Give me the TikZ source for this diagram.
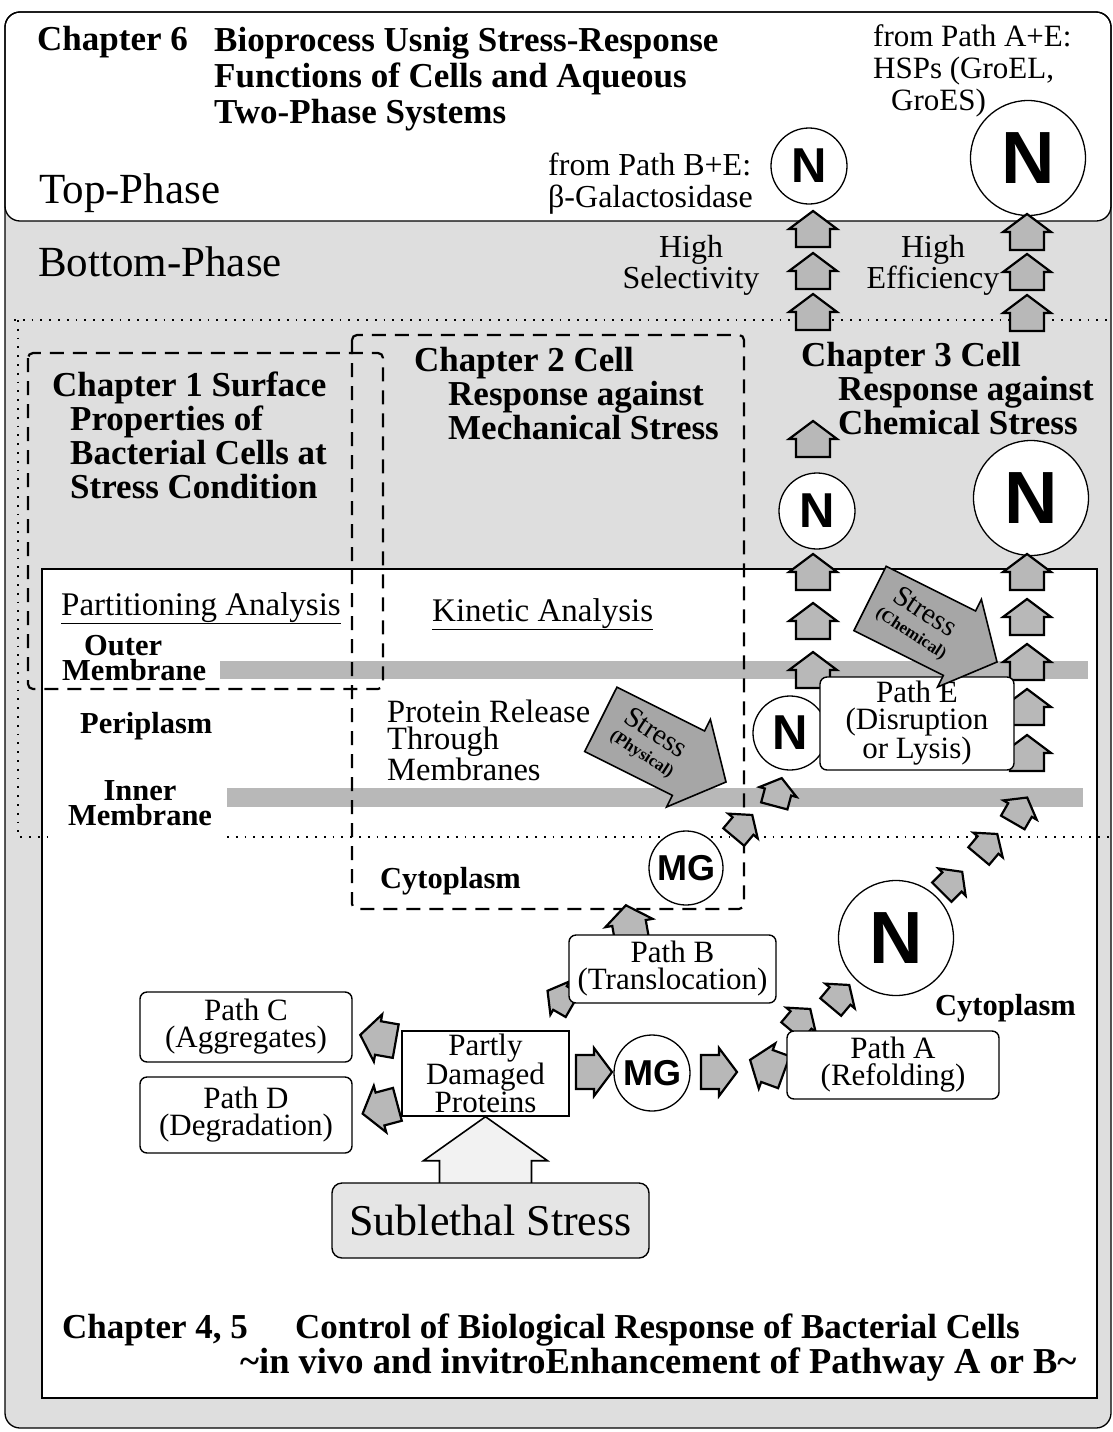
\documentclass[tikz,border=0pt]{standalone}
\usepackage{fontspec}
\setmainfont{Liberation Serif}
\setsansfont{Liberation Sans}
\usetikzlibrary{calc}

\begin{document}
\begin{tikzpicture}[
        x=1pt, y=-1pt,
        frame/.style={draw, line width=1.3pt},
        band/.style={fill=black!28},
        chapbox/.style={draw, line width=2.2pt, dash pattern=on 14pt off 9pt, rounded corners=5pt},
        layerline/.style={draw, line width=1.8pt, dash pattern=on 1.8pt off 7pt},
        head/.style={inner sep=0pt, align=left, font=\bfseries\fontsize{35}{34}\selectfont},
        txt/.style={inner sep=0pt, align=left, font=\fontsize{32}{32}\selectfont},
        phase/.style={inner sep=0pt, font=\fontsize{43}{43}\selectfont},
        layer/.style={inner sep=0pt, align=left, font=\bfseries\fontsize{30.5}{25}\selectfont},
        pathbox/.style={draw, fill=white, line width=1.4pt, rounded corners=7pt, inner sep=0pt, align=center, font=\fontsize{31}{27}\selectfont},
        nbig/.style={circle, draw, fill=white, line width=1.3pt, inner sep=0pt, minimum size=115pt, font=\sffamily\bfseries\fontsize{74}{74}\selectfont},
        nsmall/.style={nbig, minimum size=76pt, font=\sffamily\bfseries\fontsize{49}{49}\selectfont},
        mgnode/.style={nbig, minimum size=74pt, font=\sffamily\bfseries\fontsize{36}{36}\selectfont},
        stressarrow/.style={draw, fill=black!35, line width=1.6pt, line join=miter},
        stresstext/.style={rotate=-33, inner sep=0pt, align=center, font=\fontsize{29}{22}\selectfont},
        hollowarrow/.style={draw, fill=black!5, line width=1.6pt, line join=miter},
        house/.pic={\path[draw, fill=black!28, line width=2.2pt, line join=miter] (-17,18) -- (-17,0) -- (-24,0) -- (0,-18) -- (24,0) -- (17,0) -- (17,18) -- cycle;}
    ]
        \useasboundingbox (0,0) rectangle (1113,1432);

        % phases: white top phase, grey bottom phase, white cell
        \fill[black!13, rounded corners=15pt] (5,12) rectangle (1111,1428);
        \fill[white, rounded corners=15pt] (5,12) rectangle (1111,221);
        \draw[frame, rounded corners=15pt] (5,12) rectangle (1111,1428);
        \draw[frame, rounded corners=15pt] (5,12) rectangle (1111,221);
        \draw[frame, fill=white] (42,569) rectangle (1097,1398);

        % membranes and layer borders
        \fill[band] (220,661) rectangle (1088,679);
        \fill[band] (227,788) rectangle (1083,807);
        \draw[layerline] (14,320) -- (1113,320);
        \draw[layerline] (18,320) -- (18,837) -- (50,837);
        \draw[layerline] (227,837) -- (1113,837);

        % chapter areas
        \draw[chapbox] (28,353) rectangle (383,689);
        \draw[chapbox] (352,335) rectangle (744,909);

        % native (N) and molten globule (MG) proteins
        \node[nsmall] (ntop) at (809,166) {N};
        \node[nbig] (ntopbig) at (1028,158) {N};
        \node[nsmall] (nmid) at (817,511) {N};
        \node[nbig] (nmidbig) at (1031,498) {N};
        \node[nsmall, minimum size=74pt] (ne) at (790,733) {N};
        \node[mgnode] (mgup) at (686,868) {MG};
        \node[nbig] (nbot) at (896,938) {N};
        \node[mgnode, minimum size=76pt] (mgbot) at (652,1073) {MG};

        % release through the phases
        \pic at (813,229) {house};
        \pic at (813,271) {house};
        \pic at (813,312) {house};
        \pic at (1027,232) {house};
        \pic at (1027,272) {house};
        \pic at (1027,313) {house};
        \pic at (813,439) {house};
        % release through the membranes
        \pic at (813,572) {house};
        \pic at (813,621) {house};
        \pic at (813,670) {house};
        \pic at (1027,572) {house};
        \pic at (1027,617) {house};
        \pic at (1027,662) {house};
        \pic at (1027,707) {house};
        \pic at (1027,753) {house};
        % Path B route
        \pic[rotate=-40, scale=0.8] at (743,826) {house};
        \pic[rotate=-15, scale=0.8] at (778,792) {house};
        \pic[rotate=10] at (629,923) {house};
        \pic[rotate=60, scale=0.8] at (560,998) {house};
        % Path A route
        \pic[rotate=-40, scale=0.8] at (801,1020) {house};
        \pic[rotate=-40, scale=0.8] at (840,996) {house};
        \pic[rotate=-45, scale=0.8] at (952,882) {house};
        \pic[rotate=-40, scale=0.8] at (988,845) {house};
        \pic[rotate=-30, scale=0.8] at (1020,810) {house};
        % from the damaged proteins
        \pic[rotate=-90] at (594,1072) {house};
        \pic[rotate=-90] at (719,1072) {house};
        \pic[rotate=70] at (767,1066) {house};
        \pic[rotate=80] at (378,1038) {house};
        \pic[rotate=105] at (380,1109) {house};

        % pathways
        \node[pathbox, minimum width=212pt, minimum height=70pt] (pathc) at (246,1027) {Path C\\(Aggregates)};
        \node[pathbox, minimum width=212pt, minimum height=76pt] (pathd) at (246,1115) {Path D\\(Degradation)};
        \node[pathbox, rounded corners=0pt, minimum width=167pt, minimum height=85pt] (damaged) at (485.5,1073.5) {Partly\\Damaged\\Proteins};
        \node[pathbox, minimum width=207pt, minimum height=68pt] (pathb) at (672.5,969) {Path B\\(Translocation)};
        \node[pathbox, minimum width=212pt, minimum height=68pt] (patha) at (893,1065) {Path A\\(Refolding)};
        \node[pathbox, minimum width=194pt, minimum height=93pt] (pathe) at (917,723.5) {Path E\\(Disruption\\or Lysis)};

        % sublethal stress
        \draw[hollowarrow] ($(damaged.south)+(-46,67)$) -- ++(0,-23) -- ++(-16,0) -- (damaged.south) -- ++(62,44) -- ++(-16,0) -- ++(0,23);
        \node[pathbox, fill=black!10, rounded corners=10pt, minimum width=317pt, minimum height=75pt, font=\fontsize{44}{44}\selectfont] (sub) at (490.5,1220.5) {Sublethal Stress};

        % physical and chemical stress
        \begin{scope}[shift={(726,782)}, rotate=-26.6]
            \path[stressarrow] (0,0) -- (-42,49) -- (-42,36) -- (-140,36) -- (-140,-36) -- (-42,-36) -- (-42,-49) -- cycle;
            \node[stresstext] (phys) at (-86,-1) {Stress\\{\bfseries\fontsize{17}{22}\selectfont (Physical)}};
        \end{scope}
        \begin{scope}[shift={(997,662)}, rotate=-26.6]
            \path[stressarrow] (0,0) -- (-42,49) -- (-42,36) -- (-142,36) -- (-142,-36) -- (-42,-36) -- (-42,-49) -- cycle;
            \node[stresstext] (chem) at (-88,-1) {Stress\\{\bfseries\fontsize{17}{22}\selectfont (Chemical)}};
        \end{scope}

        % chapter titles
        \node[head, anchor=base west] (ch6) at (37,50) {Chapter 6};
        \node[head, anchor=north west, font=\bfseries\fontsize{35}{36}\selectfont] (ch6t) at (214,27) {Bioprocess Usnig Stress-Response\\Functions of Cells and Aqueous\\Two-Phase Systems};
        \node[head, anchor=north west] (ch1) at (52,372) {Chapter 1 Surface\\\hspace*{18pt}Properties of\\\hspace*{18pt}Bacterial Cells at\\\hspace*{18pt}Stress Condition};
        \node[head, anchor=north west] (ch2) at (414,347) {Chapter 2 Cell\\\hspace*{34pt}Response against\\\hspace*{34pt}Mechanical Stress};
        \node[head, anchor=north west] (ch3) at (801,342) {Chapter 3 Cell\\\hspace*{37pt}Response against\\\hspace*{37pt}Chemical Stress};
        \node[head, anchor=base west] (ch45) at (62,1338) {Chapter 4, 5};
        \node[head, anchor=base west] (ch45t) at (295,1338) {Control of Biological Response of Bacterial Cells};
        \node[head, anchor=base west, font=\bfseries\fontsize{36.5}{36}\selectfont] (ch45s) at (240,1373) {\textasciitilde in vivo and invitroEnhancement of Pathway A or B\textasciitilde};

        % phases and products
        \node[phase, anchor=base west] (top) at (39,203) {Top-Phase};
        \node[phase, anchor=base west] (bottom) at (38,276) {Bottom-Phase};
        \node[txt, anchor=north west, font=\fontsize{31}{32}\selectfont] (fromae) at (873,24) {from Path A+E:\\HSPs (GroEL,\\\hspace*{18pt}GroES)};
        \node[txt, anchor=north west] (frombe) at (548,153) {from Path B+E:\\β-Galactosidase};
        \node[txt, anchor=north, align=center, font=\fontsize{32}{31}\selectfont] (selec) at (691,235) {High\\Selectivity};
        \node[txt, anchor=north, align=center, font=\fontsize{32}{31}\selectfont] (effic) at (933,235) {High\\Efficiency};

        % cell layers
        \node[txt, anchor=base west, font=\fontsize{33}{33}\selectfont] (part) at (61,615) {\underline{Partitioning Analysis}};
        \node[txt, anchor=base west, font=\fontsize{33}{33}\selectfont] (kin) at (432,621) {\underline{Kinetic Analysis}};
        \node[layer, anchor=north west] (outer) at (62,635) {\hspace*{22pt}Outer\\Membrane};
        \node[layer, anchor=base west] (peri) at (80,733) {Periplasm};
        \node[layer, anchor=north, align=center] (inner) at (140,780) {Inner\\Membrane};
        \node[txt, anchor=north west, font=\fontsize{32.5}{27}\selectfont] (release) at (387,700) {Protein Release\\Through\\Membranes};
        \node[layer, anchor=base west] (cytoa) at (380,888) {Cytoplasm};
        \node[layer, anchor=base west] (cytob) at (935,1015) {Cytoplasm};
    \end{tikzpicture}
\end{document}
